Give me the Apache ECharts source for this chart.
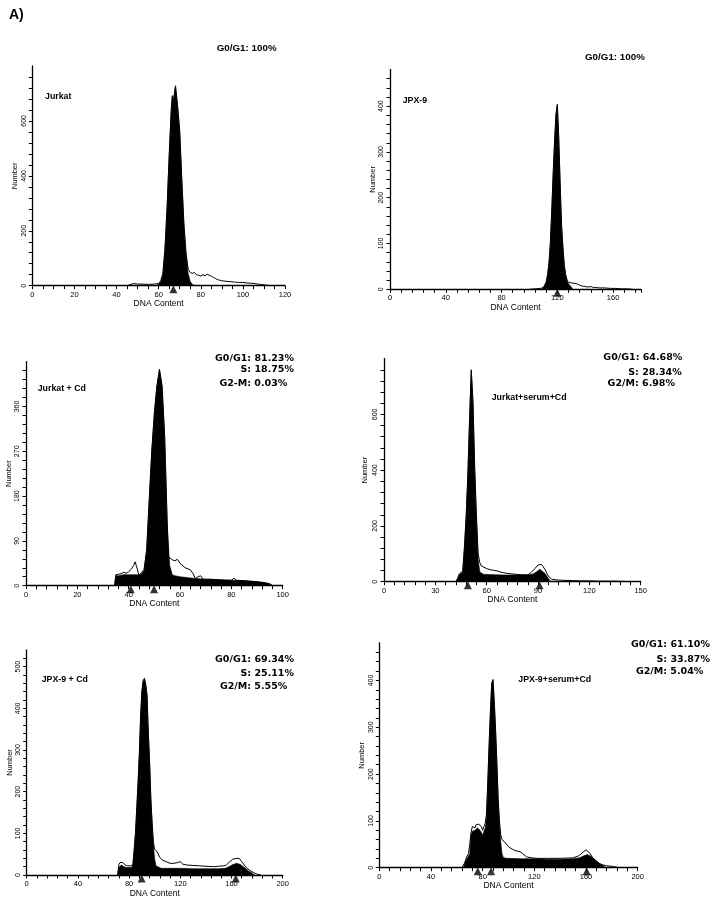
<!DOCTYPE html>
<html><head><meta charset="utf-8">
<script src="https://cdn.jsdelivr.net/npm/echarts@6/dist/echarts.min.js"></script>
<style>html,body{margin:0;padding:0;background:#fff}#c{width:714px;height:900px}</style>
</head><body><div id="c"></div>
<script>
// ---- Panel 1: Jurkat ----
const jurkatFill = [[59,0],[60,5],[61,15],[62,40],[63,130],[64,280],[65,470],[66,640],[66.5,690],[67,670],[68,725],[69,650],[70,560],[71,380],[72,220],[73,110],[74,45],[75,15],[76,5],[77,0]];
const jurkatLine = [[45,0],[48,8],[50,6],[55,5],[58,6],[60,8],[61,18],[62,45],[63,135],[64,285],[65,475],[66,645],[66.5,692],[67,672],[68,728],[69,655],[70,565],[71,385],[72,225],[73,120],[74,60],[75,48],[76,45],[77,48],[78,40],[79,38],[80,35],[81,40],[82,36],[83,42],[84,38],[85,35],[86,30],[87,26],[88,22],[89,20],[90,18],[92,16],[94,15],[96,13],[98,12],[100,12],[102,10],[104,9],[106,7],[108,5],[110,3],[112,1],[114,0]];
const jurkatMarks = [67];

// ---- Panel 2: JPX-9 ----
const jpxFill = [[109,0],[110,3],[111,8],[112,15],[113,30],[114,55],[115,100],[116,170],[117,250],[118,320],[119,380],[120,402],[121,330],[122,230],[123,140],[124,90],[125,50],[126,30],[127,18],[128,12],[129,8],[130,5],[131,0]];
const jpxLine = [[100,0],[108,2],[110,4],[111,8],[112,16],[113,32],[114,57],[115,102],[116,172],[117,252],[118,322],[119,382],[120,404],[121,332],[122,232],[123,142],[124,92],[125,52],[126,32],[127,20],[128,15],[130,14],[132,13],[134,12],[136,9],[138,7],[140,6],[142,5],[143,7],[144,6],[146,4],[148,4],[150,3],[154,3],[158,2],[162,2],[166,1],[170,1],[174,0]];
const jpxMarks = [120];

// ---- Panel 3: Jurkat + Cd ----
const jurkatCdFill = [[34.5,0],[35,20],[36,20],[37,21],[38,22],[40,22],[42,22],[44,22],[45,24],[46,30],[47,70],[48,170],[49,270],[50,345],[51,400],[52,433],[53,400],[54,300],[55,120],[56,40],[57,22],[58,20],[60,18],[65,15],[70,13],[75,12],[80,11],[85,10],[90,8],[93,6],[95,3],[96,0]];
const jurkatCdLine = [[34.5,0],[35,22],[36,23],[37,24],[38,27],[39,25],[40,28],[41,33],[42,41],[42.5,48],[43,40],[44,21],[45,26],[46,33],[47,72],[48,172],[49,272],[50,347],[51,402],[52,435],[53,402],[54,302],[55,130],[55.5,58],[56,55],[57,52],[58,50],[59,53],[60,45],[62,36],[64,32],[65,25],[66,14],[67,18],[68,20],[69,13],[72,13],[75,12],[78,11],[80,11],[81,15],[82,11],[85,10],[90,8],[93,6],[95,4],[96,0]];
const jurkatCdMarks = [40.8, 49.9];

// ---- Panel 4: Jurkat + serum + Cd ----
const jurkatSerumFill = [[42,0],[43,10],[44,25],[45,30],[46,35],[47,120],[48,230],[49,380],[50,580],[51,756],[52,640],[53,400],[54,220],[55,80],[56,35],[57,28],[58,27],[60,26],[65,25],[70,24],[75,24],[80,24],[85,25],[87,28],[89,35],[91,45],[92,42],[94,30],[96,12],[97,4],[98,0]];
const jurkatSerumLine = [[42,0],[43,12],[44,28],[45,32],[46,38],[47,125],[48,235],[49,385],[50,585],[51,760],[52,645],[53,410],[54,240],[55,100],[56,68],[57,56],[58,52],[60,47],[62,43],[64,41],[66,39],[68,35],[70,32],[73,29],[76,27],[80,25],[84,24],[86,33],[88,46],[90,60],[91,66],[92,62],[93,55],[94,45],[95,32],[96,20],[97,13],[98,9],[100,7],[102,6],[105,5],[110,4],[115,3],[120,3],[125,2],[130,2],[135,2],[140,1],[145,0]];
const jurkatSerumMarks = [49, 90.9];

// ---- Panel 5: JPX-9 + Cd ----
const jpxCdFill = [[71,0],[72,18],[73,22],[74,24],[75,22],[76,20],[78,18],[80,18],[82,18],[83,25],[84,60],[85,100],[86,160],[87,220],[88,290],[89,380],[90,440],[91,465],[92,470],[93,455],[94,430],[95,340],[96,270],[97,180],[98,120],[99,70],[100,38],[101,22],[102,18],[105,16],[110,16],[120,16],[130,15],[140,15],[150,15],[155,16],[158,20],[161,25],[164,28],[167,25],[170,18],[173,10],[176,5],[178,0]];
const jpxCdLine = [[71,0],[72,25],[73,30],[74,28],[75,30],[76,26],[77,24],[78,26],[79,22],[80,22],[82,22],[83,28],[84,62],[85,102],[86,162],[87,222],[88,292],[89,382],[90,442],[91,467],[92,472],[93,457],[94,432],[95,342],[96,272],[97,182],[98,125],[99,78],[100,62],[101,60],[102,55],[104,42],[106,36],[109,32],[112,28],[115,28],[118,30],[120,32],[122,26],[125,24],[130,23],[135,22],[140,21],[146,20],[150,21],[154,22],[156,24],[158,30],[161,38],[164,40],[166,40],[168,32],[170,24],[172,16],[174,12],[177,6],[180,2],[183,0]];
const jpxCdMarks = [89.8, 163.3];

// ---- Panel 6: JPX-9 + serum + Cd ----
const jpxSerumFill = [[65,0],[66,8],[67,15],[68,20],[69,22],[70,30],[71,70],[72,78],[73,82],[74,80],[75,84],[76,85],[77,82],[78,80],[79,75],[80,70],[81,78],[82,85],[83,110],[84,180],[85,260],[86,330],[87,390],[88,400],[89,350],[90,290],[91,220],[92,140],[93,90],[94,55],[95,30],[96,22],[98,20],[100,20],[110,19],[120,19],[130,18],[140,18],[150,19],[155,21],[158,25],[161,28],[164,24],[167,17],[170,10],[173,5],[175,0]];
const jpxSerumLine = [[64,0],[66,10],[67,18],[68,25],[69,30],[70,50],[71,75],[72,88],[73,90],[74,85],[75,92],[76,90],[77,93],[78,92],[79,88],[80,80],[81,88],[82,95],[83,115],[84,185],[85,265],[86,335],[87,395],[88,402],[89,355],[90,295],[91,225],[92,148],[93,100],[94,70],[95,60],[96,57],[97,55],[98,52],[100,45],[102,41],[104,38],[106,36],[109,34],[111,30],[114,23],[118,21],[122,20],[130,20],[140,20],[150,21],[154,25],[156,29],[158,34],[160,38],[161,37],[163,31],[165,22],[167,16],[170,9],[173,6],[176,4],[180,3],[184,1],[186,0]];
const jpxSerumMarks = [76.2, 86.5, 160.5];

// axis scales: [max, minor tick step, labelled step]
const xScales = [[120,5,20],[180,8,40],[100,4,20],[150,6,30],[200,8,40],[200,8,40]];
const yScales = [[800,40,200],[480,20,100],[450,18,90],[800,40,200],[540,20,100],[480,20,100]];

const panelTitles = ['Jurkat','JPX-9','Jurkat + Cd','Jurkat+serum+Cd','JPX-9 + Cd','JPX-9+serum+Cd'];
const panelStats = [
  ['G0/G1: 100%'],
  ['G0/G1: 100%'],
  ['G0/G1: 81.23%','S: 18.75%','G2-M: 0.03%'],
  ['G0/G1: 64.68%','S: 28.34%','G2/M: 6.98%'],
  ['G0/G1: 69.34%','S: 25.11%','G2/M: 5.55%'],
  ['G0/G1: 61.10%','S: 33.87%','G2/M: 5.04%']
];

const fills = [jurkatFill, jpxFill, jurkatCdFill, jurkatSerumFill, jpxCdFill, jpxSerumFill];
const lines = [jurkatLine, jpxLine, jurkatCdLine, jurkatSerumLine, jpxCdLine, jpxSerumLine];
const marks = [jurkatMarks, jpxMarks, jurkatCdMarks, jurkatSerumMarks, jpxCdMarks, jpxSerumMarks];

// layout
const grids = [
  {left:32.3, top:66, width:252.7, height:219.7},
  {left:390, top:69.5, width:251, height:219.8},
  {left:26, top:361.7, width:256.7, height:224},
  {left:384, top:358.6, width:256.7, height:223.1},
  {left:26.7, top:650, width:256, height:225},
  {left:379.3, top:643, width:258.4, height:224.7}
];
const yNameGaps = [12, 13, 11, 15, 11.5, 13];
const titlePos = [[45,97],[402.7,100.7],[37.7,389],[491.7,398],[41.7,679.3],[518.3,680]];
// stats: [x, y, align] per line
const statPos = [
  [[216.7,48.5,'left']],
  [[585,57,'left']],
  [[294,358.3,'right'],[294,369.3,'right'],[287.3,383.3,'right']],
  [[682.3,357.7,'right'],[681.7,372.7,'right'],[675,383.3,'right']],
  [[294,660,'right'],[294,673.3,'right'],[287.3,686.7,'right']],
  [[710,645,'right'],[710,659.3,'right'],[703.3,671.7,'right']]
];

const FONT = '"Liberation Sans", Arial, Helvetica, sans-serif';
const xAxes = [], yAxes = [], series = [], graphics = [];
function fmt(major){ return v => (Math.abs(v/major - Math.round(v/major)) < 1e-6 ? String(Math.round(v)) : ''); }

for (let i = 0; i < 6; i++) {
  const [xmax, xstep, xmaj] = xScales[i];
  const [ymax, ystep, ymaj] = yScales[i];
  xAxes.push({
    type:'value', gridIndex:i, min:0, max:xmax, interval:xstep,
    axisLine:{show:true, onZero:false, lineStyle:{color:'#000', width:1.3}},
    axisTick:{show:true, length:3.5, lineStyle:{color:'#000', width:1}},
    axisLabel:{formatter:fmt(xmaj), fontSize:7.5, color:'#000', margin:5, fontFamily:FONT, showMaxLabel:true, showMinLabel:true},
    splitLine:{show:false},
    name:'DNA Content', nameLocation:'middle', nameGap:13,
    nameTextStyle:{fontSize:8.5, color:'#000', fontFamily:FONT}
  });
  yAxes.push({
    type:'value', gridIndex:i, min:0, max:ymax, interval:ystep,
    axisLine:{show:true, onZero:false, lineStyle:{color:'#000', width:1.3}},
    axisTick:{show:true, length:3.5, lineStyle:{color:'#000', width:1}},
    axisLabel:{formatter:fmt(ymaj), fontSize:7, color:'#000', margin:5, rotate:90, fontFamily:FONT, showMaxLabel:false, showMinLabel:true},
    splitLine:{show:false},
    name:'Number', nameLocation:'middle', nameRotate:90, nameGap:yNameGaps[i],
    nameTextStyle:{fontSize:7.5, color:'#000', fontFamily:FONT}
  });
  series.push({
    type:'line', xAxisIndex:i, yAxisIndex:i, data:fills[i], symbol:'none',
    lineStyle:{color:'#000', width:0.6}, areaStyle:{color:'#000', opacity:1}, z:2, animation:false
  });
  series.push({
    type:'line', xAxisIndex:i, yAxisIndex:i, data:lines[i], symbol:'none',
    lineStyle:{color:'#000', width:1}, z:3, animation:false
  });
  series.push({
    type:'scatter', xAxisIndex:i, yAxisIndex:i, data:marks[i].map(x => [x, 0]),
    symbol:'triangle', symbolSize:[8,8], symbolOffset:[0,3.5], clip:false,
    itemStyle:{color:'#000'}, z:5, animation:false
  });
  graphics.push({type:'text', x:titlePos[i][0], y:titlePos[i][1],
    style:{text:panelTitles[i], font:'bold 8.8px ' + FONT, fill:'#000', textAlign:'left', textVerticalAlign:'middle'}});
  panelStats[i].forEach((t, k) => {
    const p = statPos[i][k];
    graphics.push({type:'text', x:p[0], y:p[1],
      style:{text:t, font:(i < 2 ? 'bold 9.8px ' + FONT : 'bold 9.5px "DejaVu Sans", sans-serif'), fill:'#000', textAlign:p[2], textVerticalAlign:'middle'}});
  });
}
graphics.push({type:'text', x:9, y:15, style:{text:'A)', font:'bold 14px ' + FONT, fill:'#000', textAlign:'left', textVerticalAlign:'middle'}});

const chart = echarts.init(document.getElementById('c'), null, {renderer:'canvas'});
chart.setOption({
  backgroundColor:'#fff',
  animation:false,
  grid: grids,
  xAxis: xAxes,
  yAxis: yAxes,
  series: series,
  graphic: graphics
});
</script></body></html>
